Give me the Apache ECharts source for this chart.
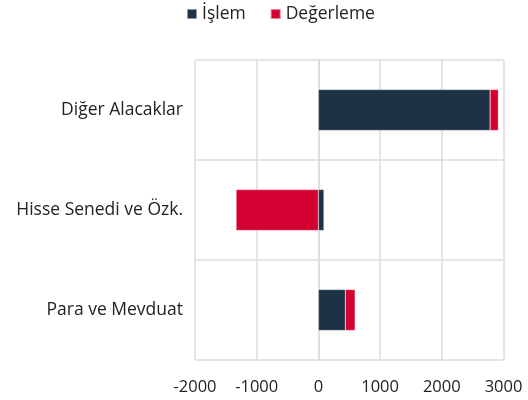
<!DOCTYPE html>
<html>
<head>
<meta charset="utf-8">
<script src="https://cdn.jsdelivr.net/npm/echarts@6/dist/echarts.min.js"></script>
<style>html,body{margin:0;padding:0;background:#fff}#c{width:528px;height:400px}</style>
</head>
<body>
<div id="c"></div>
<script>
const categories = ['Para ve Mevduat', 'Hisse Senedi ve Özk.', 'Diğer Alacaklar'];
const islem = [437, 90, 2783];
const degerleme = [158, -1334, 134];
const xTicks = {min: -2000, max: 3000, interval: 1000};

const chart = echarts.init(document.getElementById('c'), null, {renderer: 'canvas'});
const font = '"Open Sans", sans-serif';
chart.setOption({
  animation: false,
  textStyle: {fontFamily: font},
  legend: {
    top: 0, left: 181, itemWidth: 10, itemHeight: 10, itemGap: 24,
    icon: 'rect',
    textStyle: {fontFamily: font, fontSize: 17.5, color: '#222'},
    data: ['İşlem', 'Değerleme']
  },
  grid: {left: 195, right: 24.5, top: 60, bottom: 40, containLabel: false},
  xAxis: {
    type: 'value', min: xTicks.min, max: xTicks.max, interval: xTicks.interval,
    axisLine: {show: false}, axisTick: {show: false},
    splitLine: {show: true, lineStyle: {color: '#dcdcdc', width: 1.5}},
    axisLabel: {fontFamily: font, fontSize: 16.5, color: '#222', margin: 19,
      formatter: v => String(v)}
  },
  yAxis: {
    type: 'category', data: categories,
    axisLine: {show: true, lineStyle: {color: '#dcdcdc', width: 1.5}},
    axisTick: {show: false},
    splitLine: {show: true, lineStyle: {color: '#dcdcdc', width: 1.5}},
    axisLabel: {fontFamily: font, fontSize: 17.5, color: '#222', margin: 12}
  },
  series: [
    {name: 'İşlem', type: 'bar', stack: 't', data: islem, barWidth: '41%',
     itemStyle: {color: '#1e3246', borderColor: 'rgba(255,255,255,0.5)', borderWidth: 0.5}},
    {name: 'Değerleme', type: 'bar', stack: 't', data: degerleme, barWidth: '41%',
     itemStyle: {color: '#d50032', borderColor: 'rgba(255,255,255,0.5)', borderWidth: 0.5}}
  ]
});
</script>
</body>
</html>
